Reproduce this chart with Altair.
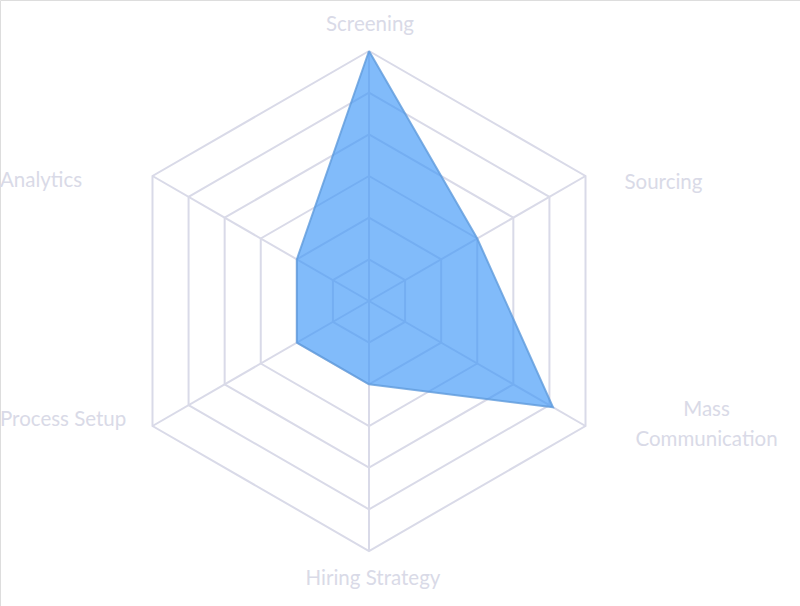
import altair as alt
import pandas as pd

categories = ["Screening", "Sourcing", "Mass Communication", "Hiring Strategy", "Process Setup", "Analytics"]
values = [6, 3, 5.1, 2, 2, 2]
levels = [1, 2, 3, 4, 5, 6]
max_level = 6

n = len(categories)

# scale domains: one unit = one ring
W, H = 800, 606
cx, cy, R = 369, 301, 250
u = R / max_level
xdom = [-cx / u, (W - cx) / u]
ydom = [-(H - cy) / u, cy / u]

xs = alt.Scale(domain=xdom, nice=False, zero=False)
ys = alt.Scale(domain=ydom, nice=False, zero=False)
noax = None

# ring polygons
ring_rows = []
for lv in levels:
    for k in range(n + 1):
        ring_rows.append({"level": lv, "idx": k % n, "ord": k, "r": lv})
rings = pd.DataFrame(ring_rows)

spokes = pd.DataFrame({"idx": list(range(n)), "r": [max_level] * n, "r0": [0] * n})

data_rows = []
for k in range(n + 1):
    data_rows.append({"idx": k % n, "ord": k, "r": values[k % n], "cat": categories[k % n]})
poly = pd.DataFrame(data_rows)

labels = pd.DataFrame({"idx": list(range(n)), "cat": categories, "r": [max_level] * n})

ang = "PI/2 - datum.idx*PI/3"

ring_layer = alt.Chart(rings).transform_calculate(
    x=f"datum.r*cos({ang})", y=f"datum.r*sin({ang})"
).mark_line(color="#d9dae8", strokeWidth=2).encode(
    x=alt.X("x:Q", scale=xs, axis=noax),
    y=alt.Y("y:Q", scale=ys, axis=noax),
    detail="level:N",
    order="ord:Q",
)

spoke_layer = alt.Chart(spokes).transform_calculate(
    x=f"datum.r*cos({ang})", y=f"datum.r*sin({ang})", x0="0", y0="0"
).mark_rule(color="#d9dae8", strokeWidth=2).encode(
    x=alt.X("x0:Q", scale=xs, axis=noax),
    y=alt.Y("y0:Q", scale=ys, axis=noax),
    x2="x:Q",
    y2="y:Q",
)

poly_layer = alt.Chart(poly).transform_calculate(
    x=f"datum.r*cos({ang})", y=f"datum.r*sin({ang})"
).mark_line(
    color="#5f9bdc", strokeWidth=2, fill="#3d97f7", fillOpacity=0.65, strokeOpacity=0.8
).encode(
    x=alt.X("x:Q", scale=xs, axis=noax),
    y=alt.Y("y:Q", scale=ys, axis=noax),
    order="ord:Q",
)

label_base = alt.Chart(labels).transform_calculate(
    x=f"datum.r*cos({ang})", y=f"datum.r*sin({ang})"
)
font = "Lato"
tcol = "#d9dae7"
fs = 20.5

def enc(chart):
    return chart.encode(
        x=alt.X("x:Q", scale=xs, axis=noax), y=alt.Y("y:Q", scale=ys, axis=noax), text="cat:N"
    )

top_lbl = enc(label_base.transform_filter("datum.idx == 0").mark_text(
    font=font, fontSize=fs, color=tcol, align="center", baseline="middle", dy=-26, dx=1
))

bot_lbl = enc(label_base.transform_filter("datum.idx == 3").mark_text(
    font=font, fontSize=fs, color=tcol, align="center", baseline="middle", dy=28, dx=4
))

right_lbl = enc(label_base.transform_filter("datum.idx == 1").mark_text(
    font=font, fontSize=fs, color=tcol, align="left", baseline="middle", dx=39, dy=7
))

right2_lbl = label_base.transform_filter("datum.idx == 2").transform_calculate(
    t="split(datum.cat, ' ')"
).mark_text(
    font=font, fontSize=fs, color=tcol, align="center", baseline="middle", dx=121, dy=-16, lineHeight=30
).encode(x=alt.X("x:Q", scale=xs, axis=noax), y=alt.Y("y:Q", scale=ys, axis=noax), text="t:N")

left_up_lbl = label_base.transform_filter("datum.idx == 5").mark_text(
    font=font, fontSize=fs, color=tcol, align="left", baseline="middle", dy=5
).encode(x=alt.value(0), y=alt.Y("y:Q", scale=ys, axis=noax), text="cat:N")

left_lo_lbl = label_base.transform_filter("datum.idx == 4").mark_text(
    font=font, fontSize=fs, color=tcol, align="left", baseline="middle", dy=-6
).encode(x=alt.value(0), y=alt.Y("y:Q", scale=ys, axis=noax), text="cat:N")

chart = alt.layer(
    ring_layer, spoke_layer, poly_layer, top_lbl, bot_lbl, right_lbl, right2_lbl, left_up_lbl, left_lo_lbl
).properties(
    width=W, height=H, autosize=alt.AutoSizeParams(type="none"), padding=0
).configure_view(stroke=None, strokeWidth=0).configure(background="white")

chart.save("out.html", embed_options={"renderer": "svg", "actions": False})
